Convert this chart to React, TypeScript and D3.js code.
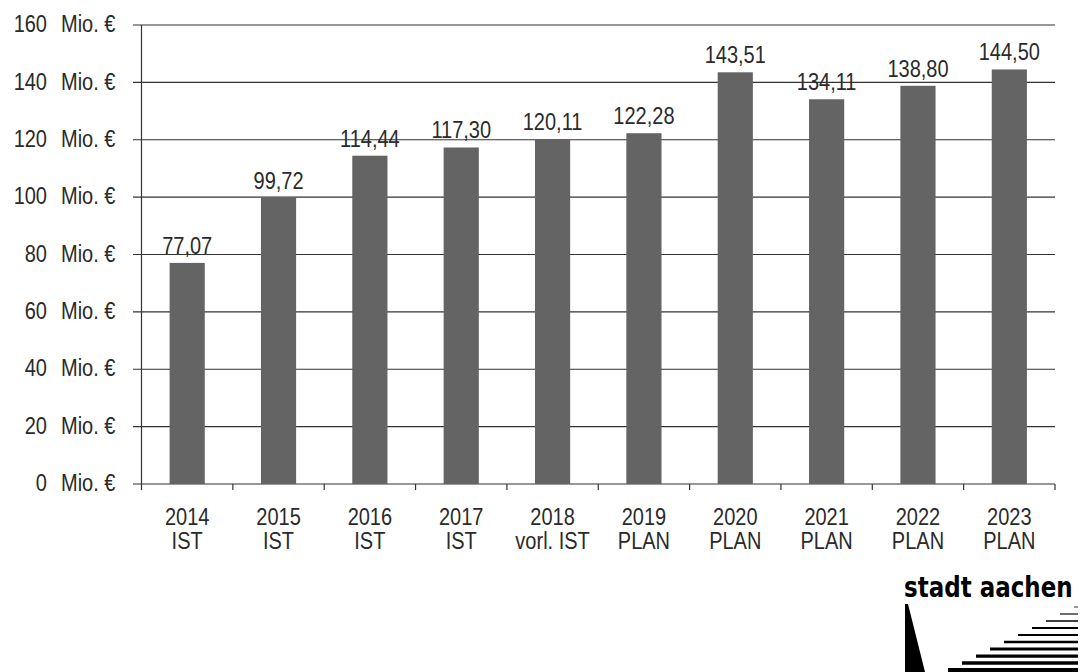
import React from "react";
import * as d3 from "d3";

const categories = ["2014", "2015", "2016", "2017", "2018", "2019", "2020", "2021", "2022", "2023"];
const subLabels = ["IST", "IST", "IST", "IST", "vorl. IST", "PLAN", "PLAN", "PLAN", "PLAN", "PLAN"];
const values = [77.07, 99.72, 114.44, 117.3, 120.11, 122.28, 143.51, 134.11, 138.8, 144.5];
const yTicks = [0, 20, 40, 60, 80, 100, 120, 140, 160];
const unitLabel = "Mio. €";

const W = 1081;
const H = 672;
const left = 141.5;
const right = 1055;
const top = 25;
const bottom = 484;
const FONT = "'Liberation Sans', Arial, sans-serif";
const SY = 1.15;
const TXT = "#2a2a2a";

export default function App() {
  const x = d3
    .scaleBand<string>()
    .domain(categories)
    .range([left, right])
    .paddingInner(0.615)
    .paddingOuter(0.3075);
  const y = d3.scaleLinear().domain([0, 160]).range([bottom, top]);
  const step = x.step();
  const fmt = (v: number) => d3.format(".2f")(v).replace(".", ",");
  const boundaries = d3.range(1, categories.length + 1).map((k) => left + step * k);

  return (
    <svg
      width={W}
      height={H}
      style={{ position: "absolute", left: 0, top: 0, background: "#fff" }}
      fontFamily={FONT}
    >
      <rect x={0} y={0} width={W} height={H} fill="#fff" />
      {/* gridlines */}
      {yTicks.map((t) => (
        <line key={"g" + t} x1={133} x2={right} y1={y(t)} y2={y(t)} stroke="#333" strokeWidth={1.2} />
      ))}
      {/* y axis */}
      <line x1={left} x2={left} y1={top} y2={bottom + 6} stroke="#333" strokeWidth={1.2} />
      {boundaries.map((bx, i) => (
        <line key={"t" + i} x1={bx} x2={bx} y1={bottom} y2={bottom + 6} stroke="#333" strokeWidth={1.2} />
      ))}
      {/* y labels */}
      {yTicks.map((t) => (
        <g key={"yl" + t} transform={`translate(0,${y(t) + 7.2}) scale(1,${SY})`}>
          <text x={47} y={0} textAnchor="end" fontSize={20} fill={TXT}>
            {t}
          </text>
          <text x={61} y={0} textAnchor="start" fontSize={20} fill={TXT}>
            {unitLabel}
          </text>
        </g>
      ))}
      {/* bars */}
      {values.map((v, i) => (
        <rect
          key={"b" + i}
          x={x(categories[i])}
          y={y(v)}
          width={x.bandwidth()}
          height={y(0) - y(v)}
          fill="#646464"
        />
      ))}
      {/* value labels */}
      {values.map((v, i) => (
        <g
          key={"vl" + i}
          transform={`translate(${(x(categories[i]) as number) + x.bandwidth() / 2},${y(v) - 9}) scale(1,${SY})`}
        >
          <text textAnchor="middle" fontSize={20} fill={TXT}>
            {fmt(v)}
          </text>
        </g>
      ))}
      {/* x labels */}
      {categories.map((c, i) => {
        const cx = (x(c) as number) + x.bandwidth() / 2;
        return (
          <g key={"xl" + i}>
            <g transform={`translate(${cx},525) scale(1,${SY})`}>
              <text textAnchor="middle" fontSize={20} fill={TXT}>
                {c}
              </text>
            </g>
            <g transform={`translate(${cx},549) scale(1,${SY})`}>
              <text textAnchor="middle" fontSize={20} fill={TXT}>
                {subLabels[i]}
              </text>
            </g>
          </g>
        );
      })}
      {/* logo */}
      <g transform="translate(904,597) scale(1,1.2)">
        <text
          x={0}
          y={0}
          fontFamily="'DejaVu Sans', sans-serif"
          fontWeight="bold"
          fontSize={23}
          fill="#000"
        >
          stadt aachen
        </text>
      </g>
      <path d="M905,604 L908,604 L925,672 L905,672 Z" fill="#000" />
      {d3.range(10).map((i) => (
        <line
          key={"lg" + i}
          x1={1074 - i * 14}
          x2={1078}
          y1={607 + i * 7}
          y2={607 + i * 7}
          stroke="#000"
          strokeWidth={0.8 + i * 0.35}
        />
      ))}
    </svg>
  );
}
